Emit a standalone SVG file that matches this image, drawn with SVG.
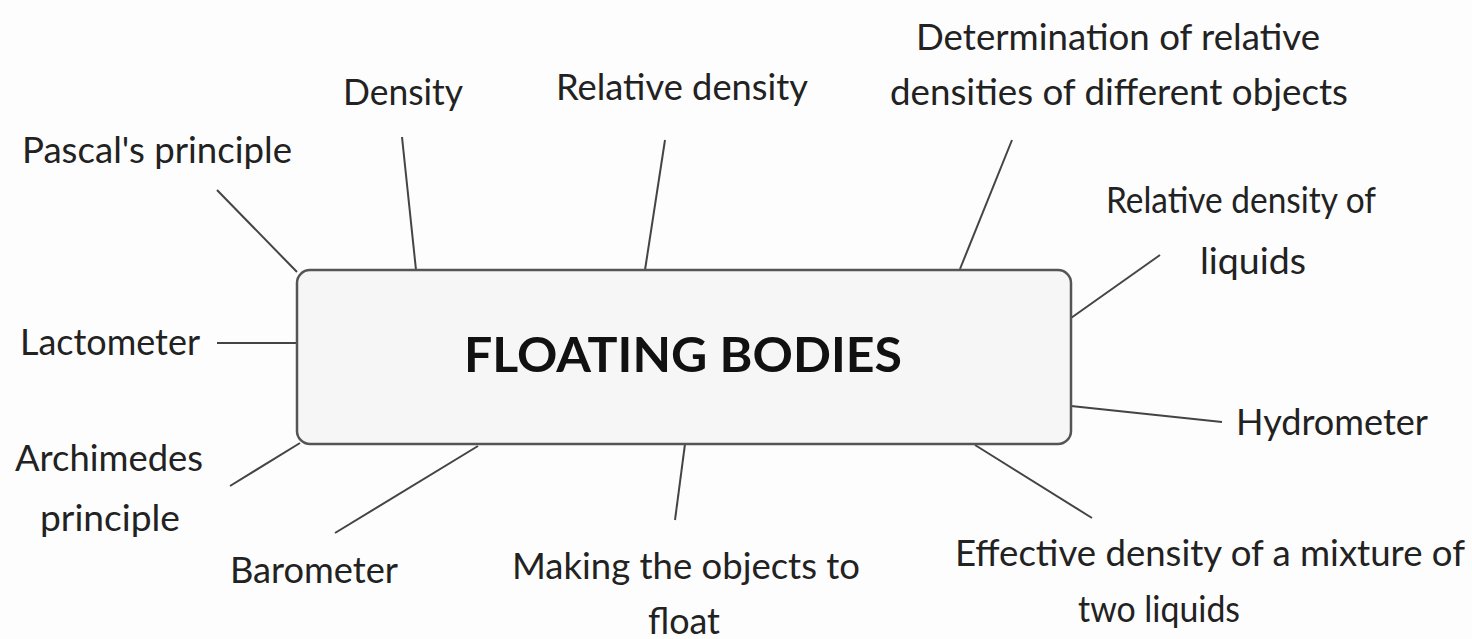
<svg xmlns="http://www.w3.org/2000/svg" width="1472" height="639" viewBox="0 0 1472 639">
<style>
.lbl{font-family:Lato,"Open Sans","Liberation Sans",sans-serif;font-size:37px;fill:#222;}
.title{font-family:Lato,"Open Sans","Liberation Sans",sans-serif;font-size:48px;font-weight:bold;fill:#111;}
.con line{stroke:#444;stroke-width:2;}
</style>
<rect width="1472" height="639" fill="#fdfdfd"/>
<g class="con" id="connectors">
<line x1="217" y1="190" x2="297" y2="272"/>
<line x1="402" y1="137" x2="416" y2="270"/>
<line x1="665" y1="140" x2="645" y2="270"/>
<line x1="1012" y1="140" x2="960" y2="269"/>
<line x1="1160" y1="255" x2="1071" y2="318"/>
<line x1="217" y1="343" x2="296" y2="343"/>
<line x1="1071" y1="406" x2="1222" y2="422"/>
<line x1="230" y1="486" x2="300" y2="443"/>
<line x1="335" y1="533" x2="478" y2="446"/>
<line x1="685" y1="444" x2="675" y2="520"/>
<line x1="975" y1="445" x2="1092" y2="518"/>
</g>
<g id="center">
<rect x="297" y="270" width="774" height="174" rx="13" ry="13" fill="#f6f6f6" stroke="#555" stroke-width="2.5"/>
<text class="title" x="683" y="372" text-anchor="middle" textLength="438" lengthAdjust="spacingAndGlyphs">FLOATING BODIES</text>
</g>
<g id="n-pascal"><text class="lbl" x="22" y="163" textLength="270" lengthAdjust="spacingAndGlyphs">Pascal's principle</text></g>
<g id="n-density"><text class="lbl" x="343" y="105" textLength="120" lengthAdjust="spacingAndGlyphs">Density</text></g>
<g id="n-reldensity"><text class="lbl" x="556" y="100" textLength="252" lengthAdjust="spacingAndGlyphs">Relative density</text></g>
<g id="n-determination">
<text class="lbl" x="916" y="50" textLength="404" lengthAdjust="spacingAndGlyphs">Determination of relative</text>
<text class="lbl" x="890" y="105" textLength="458" lengthAdjust="spacingAndGlyphs">densities of different objects</text>
</g>
<g id="n-relliquids">
<text class="lbl" x="1106" y="213" textLength="270" lengthAdjust="spacingAndGlyphs">Relative density of</text>
<text class="lbl" x="1200" y="274" textLength="106" lengthAdjust="spacingAndGlyphs">liquids</text>
</g>
<g id="n-lactometer"><text class="lbl" x="20" y="355" textLength="180" lengthAdjust="spacingAndGlyphs">Lactometer</text></g>
<g id="n-hydrometer"><text class="lbl" x="1236" y="435" textLength="192" lengthAdjust="spacingAndGlyphs">Hydrometer</text></g>
<g id="n-archimedes">
<text class="lbl" x="15" y="471" textLength="188" lengthAdjust="spacingAndGlyphs">Archimedes</text>
<text class="lbl" x="40" y="531" textLength="140" lengthAdjust="spacingAndGlyphs">principle</text>
</g>
<g id="n-barometer"><text class="lbl" x="230" y="583" textLength="168" lengthAdjust="spacingAndGlyphs">Barometer</text></g>
<g id="n-making">
<text class="lbl" x="512" y="579" textLength="348" lengthAdjust="spacingAndGlyphs">Making the objects to</text>
<text class="lbl" x="648" y="634" textLength="72" lengthAdjust="spacingAndGlyphs">float</text>
</g>
<g id="n-effective">
<text class="lbl" x="955" y="566" textLength="510" lengthAdjust="spacingAndGlyphs">Effective density of a mixture of</text>
<text class="lbl" x="1078" y="622" textLength="162" lengthAdjust="spacingAndGlyphs">two liquids</text>
</g>
</svg>
